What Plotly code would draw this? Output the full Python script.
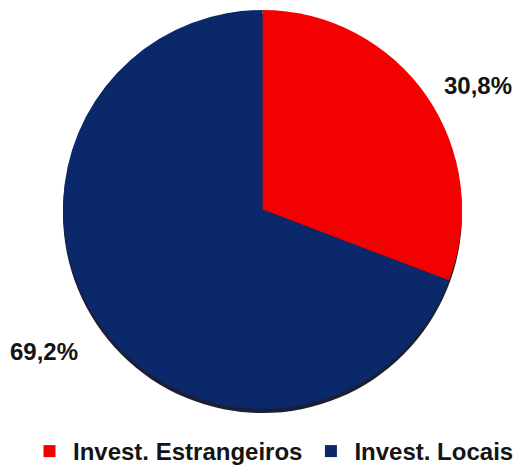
import plotly.graph_objects as go

categories = ["Invest. Estrangeiros", "Invest. Locais"]
values = [30.8, 69.2]
colors = ["#F40000", "#0B286A"]

W, H = 517, 466
cx, cy, r = 262.5, 209.5, 199.5

def dom(cx, cy, r):
    return dict(x=[(cx - r) / W, (cx + r) / W], y=[1 - (cy + r) / H, 1 - (cy - r) / H])

fig = go.Figure()
# thin shadow under the pie
fig.add_trace(go.Pie(values=[1], marker=dict(colors=["#1B1F33"], line=dict(width=0)),
                     domain=dom(cx, cy + 4, r), sort=False, textinfo="none",
                     hoverinfo="skip", showlegend=False))
fig.add_trace(go.Pie(labels=categories, values=values, sort=False, direction="clockwise",
                     rotation=0, marker=dict(colors=colors, line=dict(width=0)),
                     textinfo="none", domain=dom(cx, cy, r), hoverinfo="label+percent"))

label_pos = [(478, 85), (44, 351)]
for v, (x, y) in zip(values, label_pos):
    fig.add_annotation(x=x / W, y=1 - y / H, xref="paper", yref="paper",
                       xanchor="center", yanchor="middle",
                       text=f"{v:.1f}%".replace(".", ","), showarrow=False,
                       font=dict(family="Liberation Sans, Arial", size=24, color="#141414", weight="bold"))

fig.update_layout(
    width=W, height=H, margin=dict(l=0, r=0, t=0, b=0, autoexpand=False),
    paper_bgcolor="white", plot_bgcolor="white",
    showlegend=True,
    legend=dict(orientation="h", x=26 / W, xanchor="left", y=1 - 429 / H, yanchor="top",
                itemwidth=37,
                font=dict(family="Liberation Sans, Arial", size=24, color="#141414", weight="bold"),
                bgcolor="rgba(0,0,0,0)", itemclick=False),
)
fig.write_html("out.html", config={"displayModeBar": False},
               post_script="document.body.style.margin='0';document.body.style.overflow='hidden';")
